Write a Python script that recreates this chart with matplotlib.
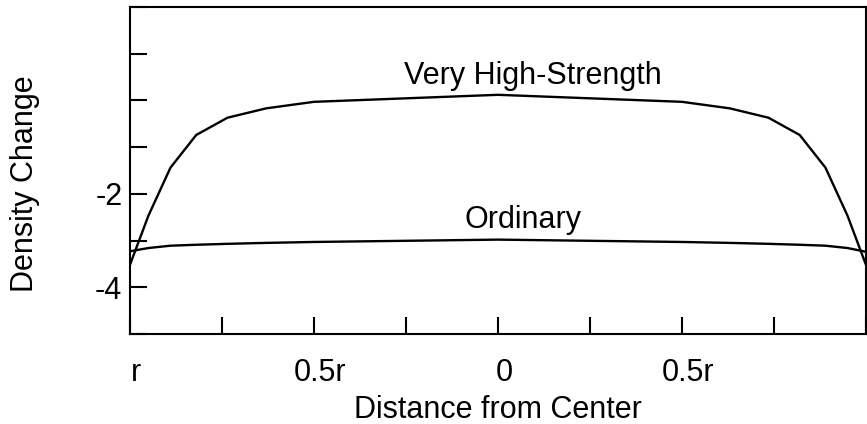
import matplotlib.pyplot as plt
from matplotlib.transforms import ScaledTranslation

plt.rcParams['font.family'] = ['Liberation Sans', 'DejaVu Sans']

# relative distance from center (-1 = r on the left, +1 = r on the right)
positions = [-1.0, -0.95, -0.89, -0.82, -0.735, -0.63, -0.5, 0.0,
             0.5, 0.63, 0.735, 0.82, 0.89, 0.95, 1.0]
very_high = [-3.52, -2.47, -1.44, -0.74, -0.37, -0.17, -0.03, 0.12,
             -0.03, -0.17, -0.37, -0.74, -1.44, -2.47, -3.52]
ordinary = [-3.23, -3.16, -3.11, -3.09, -3.07, -3.05, -3.03, -2.98,
            -3.03, -3.05, -3.07, -3.09, -3.11, -3.16, -3.24]

x_ticks = [-1.0, -0.75, -0.5, -0.25, 0.0, 0.25, 0.5, 0.75, 1.0]
x_labels = ['r', '', '0.5r', '', '0', '', '0.5r', '', '']
y_ticks = [-5, -4, -3, -2, -1, 0, 1, 2]
y_labels = ['', '-4', '', '-2', '', '', '', '']

fig = plt.figure(figsize=(8.67, 4.24), dpi=100)
ax = fig.add_axes([0.1499, 0.2123, 0.8489, 0.7712])

ax.plot(positions, very_high, color='black', lw=1.7)
ax.plot(positions, ordinary, color='black', lw=1.7)

ax.text(0.094, 0.355, 'Very High-Strength', fontsize=22, ha='center', va='baseline')
ax.text(0.067, -2.73, 'Ordinary', fontsize=22, ha='center', va='baseline')

ax.set_xlim(-1, 1)
ax.set_ylim(-5, 2)
ax.set_xticks(x_ticks)
ax.set_xticklabels(x_labels)
ax.set_yticks(y_ticks)
ax.set_yticklabels(y_labels)

ax.tick_params(axis='both', direction='in', length=12, width=1.5, labelsize=22)
ax.tick_params(axis='x', pad=17)
ax.tick_params(axis='y', pad=5.5)

# tick labels sit a little right of their ticks in the original
offset = ScaledTranslation(6 / 100, 0, fig.dpi_scale_trans)
for lab in ax.get_xticklabels():
    lab.set_transform(lab.get_transform() + offset)

for sp in ax.spines.values():
    sp.set_linewidth(1.5)

ax.set_xlabel('Distance from Center', fontsize=22, labelpad=5)
fig.text(0.029, 0.567, 'Density Change', fontsize=22, rotation=90,
         ha='center', va='center')

fig.savefig('out.png', dpi=100)
